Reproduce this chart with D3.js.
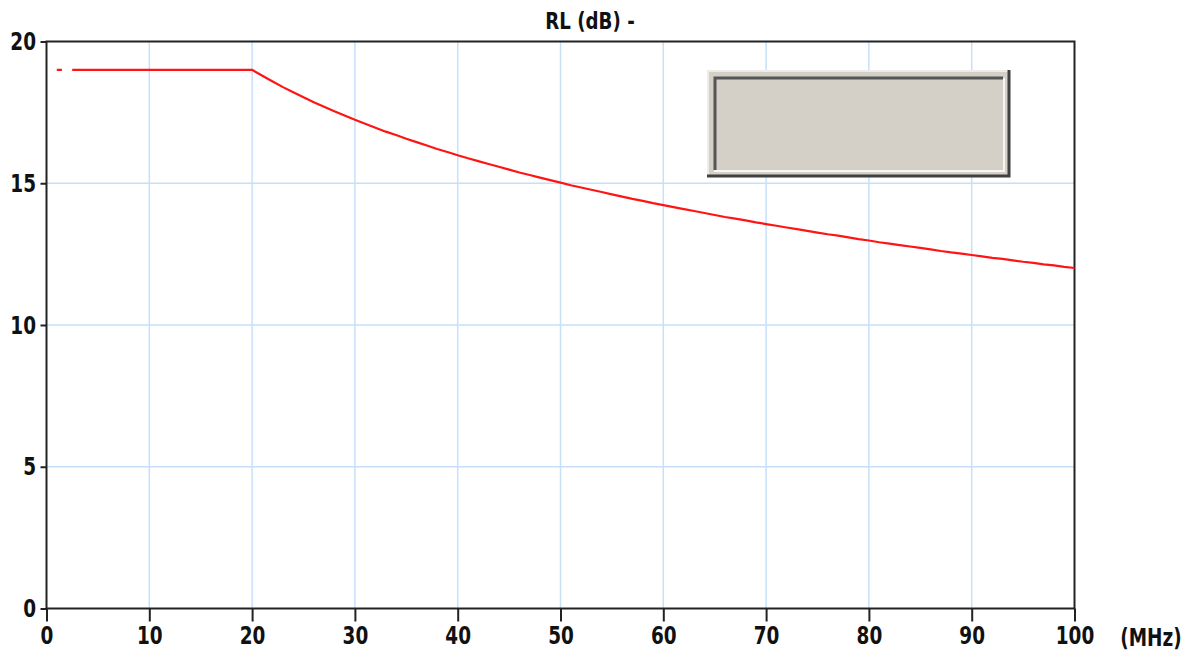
<!DOCTYPE html>
<html>
<head>
<meta charset="utf-8">
<script src="https://cdn.jsdelivr.net/npm/d3@7"></script>
<style>
  body { margin: 0; background: #fff; }
  svg { display: block; }
  text { font-family: "DejaVu Sans Condensed", "DejaVu Sans", sans-serif; font-weight: bold; fill: #111; }
</style>
</head>
<body>
<svg id="chart" width="1197" height="657"></svg>
<script>
// datos (MHz / dB)
const freqs = [1, 1.5, 2, 2.5, 3, 5, 10, 15, 20,
  21, 22, 23, 24, 25, 26, 27, 28, 29, 30,
  31, 32, 33, 34, 35, 36, 37, 38, 39, 40,
  41, 42, 43, 44, 45, 46, 47, 48, 49, 50,
  51, 52, 53, 54, 55, 56, 57, 58, 59, 60,
  61, 62, 63, 64, 65, 66, 67, 68, 69, 70,
  71, 72, 73, 74, 75, 76, 77, 78, 79, 80,
  81, 82, 83, 84, 85, 86, 87, 88, 89, 90,
  91, 92, 93, 94, 95, 96, 97, 98, 99, 100];
const rlValues = [19, 19, null, 19, 19, 19, 19, 19, 19,
  18.79, 18.59, 18.39, 18.21, 18.03, 17.86, 17.70, 17.54, 17.39, 17.24,
  17.10, 16.96, 16.82, 16.70, 16.57, 16.45, 16.33, 16.21, 16.10, 15.99,
  15.88, 15.78, 15.68, 15.58, 15.48, 15.38, 15.29, 15.20, 15.11, 15.02,
  14.93, 14.85, 14.77, 14.69, 14.61, 14.53, 14.45, 14.38, 14.30, 14.23,
  14.16, 14.09, 14.02, 13.95, 13.88, 13.81, 13.75, 13.69, 13.62, 13.56,
  13.50, 13.44, 13.38, 13.32, 13.26, 13.20, 13.15, 13.09, 13.03, 12.98,
  12.92, 12.87, 12.82, 12.77, 12.72, 12.67, 12.61, 12.56, 12.52, 12.47,
  12.42, 12.37, 12.33, 12.28, 12.23, 12.19, 12.14, 12.10, 12.05, 12.01];
const xTicks = [0, 10, 20, 30, 40, 50, 60, 70, 80, 90, 100];
const yTicks = [0, 5, 10, 15, 20];
const title = "RL (dB) -";
const xUnit = "(MHz)";

const svg = d3.select("#chart");
const pLeft = 46.5, pRight = 1074.5, pTop = 41.5, pBottom = 608.5;
const squeeze = 0.82; // letras estrechas como en el original

const x = d3.scaleLinear().domain([0, 100]).range([pLeft, pRight]);
const y = d3.scaleLinear().domain([0, 20]).range([pBottom, pTop]);

// rejilla
svg.append("g").selectAll("line")
  .data(xTicks.filter(d => d > 0 && d < 100))
  .enter().append("line")
  .attr("x1", d => x(d)).attr("x2", d => x(d))
  .attr("y1", pTop).attr("y2", pBottom)
  .attr("stroke", "#c6e0fa").attr("stroke-width", 1.5);
svg.append("g").selectAll("line")
  .data(yTicks.filter(d => d > 0 && d < 20))
  .enter().append("line")
  .attr("x1", pLeft).attr("x2", pRight)
  .attr("y1", d => y(d)).attr("y2", d => y(d))
  .attr("stroke", "#c6e0fa").attr("stroke-width", 1.5);

// ejes
const xAxis = d3.axisBottom(x).tickValues(xTicks).tickSize(13).tickSizeOuter(0).tickPadding(5);
const yAxis = d3.axisLeft(y).tickValues(yTicks).tickSize(6).tickSizeOuter(0).tickPadding(4);

const gx = svg.append("g").attr("transform", `translate(0,${pBottom})`).call(xAxis);
const gy = svg.append("g").attr("transform", `translate(${pLeft},0)`).call(yAxis);
[gx, gy].forEach(g => {
  g.select(".domain").remove();
  g.selectAll("line").attr("stroke", "#222").attr("stroke-width", 2);
  g.selectAll("text").attr("font-size", 25).attr("fill", "#111")
    .style("font-family", "'DejaVu Sans Condensed', 'DejaVu Sans', sans-serif").style("font-weight", "bold")
    .attr("transform", `scale(${squeeze},1)`);
});
gy.selectAll("text").attr("x", -10.5 / squeeze);

// marco
svg.append("rect")
  .attr("x", pLeft).attr("y", pTop)
  .attr("width", pRight - pLeft).attr("height", pBottom - pTop)
  .attr("fill", "none").attr("stroke", "#222").attr("stroke-width", 2);

// curva RL
const line = d3.line()
  .defined((d, i) => rlValues[i] !== null)
  .x(d => x(d))
  .y((d, i) => y(rlValues[i]));

svg.append("path")
  .datum(freqs)
  .attr("d", line)
  .attr("fill", "none")
  .attr("stroke", "#ff1414")
  .attr("stroke-width", 2.2);

// caja gris (leyenda vacia)
const box = svg.append("g");
box.append("rect").attr("x", 707).attr("y", 70).attr("width", 303).attr("height", 107).attr("fill", "#d4d0c8");
box.append("path").attr("d", "M708,177 V71 H1010").attr("fill", "none").attr("stroke", "#eeece8").attr("stroke-width", 2);
box.append("path").attr("d", "M707,176 H1009 V70").attr("fill", "none").attr("stroke", "#404040").attr("stroke-width", 3);
box.append("path").attr("d", "M715,170 V78 H1003").attr("fill", "none").attr("stroke", "#555").attr("stroke-width", 3);
box.append("path").attr("d", "M714,171 H1004 V78").attr("fill", "none").attr("stroke", "#f8f6f2").attr("stroke-width", 2);

// titulos
svg.append("text")
  .attr("transform", `translate(590,29) scale(0.88,1)`)
  .attr("text-anchor", "middle")
  .attr("font-size", 23)
  .text(title);

svg.append("text")
  .attr("transform", `translate(1151,646) scale(${squeeze},1)`)
  .attr("text-anchor", "middle")
  .attr("font-size", 25)
  .text(xUnit);
</script>
</body>
</html>
